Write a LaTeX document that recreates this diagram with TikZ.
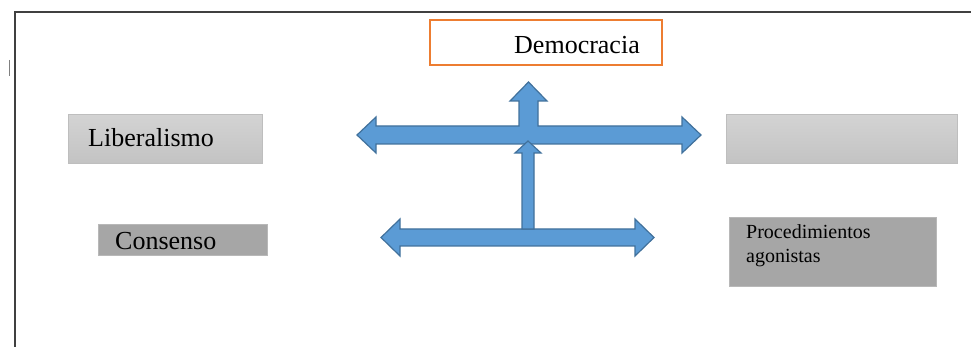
\documentclass[tikz,border=0pt]{standalone}
\usepackage{fontspec}
\setmainfont{Liberation Serif}
\definecolor{arrowfill}{HTML}{5B9BD5}
\definecolor{arrowline}{HTML}{41719C}
\definecolor{orangeline}{HTML}{ED7D31}
\definecolor{lightA}{HTML}{D3D3D3}
\definecolor{lightB}{HTML}{C3C3C3}
\definecolor{lightedge}{HTML}{BEBEBE}
\definecolor{darkgray}{HTML}{A6A6A6}
\definecolor{frameline}{HTML}{404040}
\begin{document}
\begin{tikzpicture}[x=1pt,y=-1pt,
  lightbox/.style={draw=lightedge, line width=0.8pt, top color=lightA, bottom color=lightB, anchor=north west, inner sep=0pt},
  darkbox/.style={draw=darkgray!80!white, line width=0.5pt, fill=darkgray, anchor=north west, inner sep=0pt},
  topbox/.style={draw=orangeline, line width=2pt, fill=white, anchor=north west, inner sep=0pt},
  bigtext/.style={font=\fontsize{26}{30}\selectfont, inner sep=0pt, anchor=west},
  smalltext/.style={font=\fontsize{20}{24}\selectfont, inner sep=0pt, anchor=west, align=left},
  blockarrow/.style={fill=arrowfill, draw=arrowline, line width=1.2pt, line join=miter}]
\useasboundingbox (0,0) rectangle (971,347);
% frame
\draw[frameline, line width=1.2pt] (15,347) -- (15,12) -- (971,12);
\draw[gray, line width=0.8pt] (9,60) -- (9,76);
% boxes
\node[topbox, minimum width=232pt, minimum height=45pt] (demo) at (428.5,19.5) {};
\node[bigtext] (tdemo) at (514,45) {Democracia};
\node[lightbox, minimum width=194pt, minimum height=49pt] (lib) at (68,114) {};
\node[bigtext] (tlib) at (88,138) {Liberalismo};
\node[lightbox, minimum width=231pt, minimum height=49pt] (empty) at (726,114) {};
\node[darkbox, minimum width=169pt, minimum height=31pt] (cons) at (98,224) {};
\node[bigtext] (tcons) at (115,241) {Consenso};
\node[darkbox, minimum width=207pt, minimum height=69pt] (proc) at (729,217) {};
\node[smalltext] (tproc) at (746,246) {Procedimientos\\agonistas};
% block arrows
\draw[blockarrow] (357,135) -- (376,117) -- (376,126) -- (519,126) -- (519,101) -- (510,101)
  -- (528.5,82) -- (547,101) -- (538,101) -- (538,126) -- (682,126) -- (682,117) -- (701,135)
  -- (682,153) -- (682,144) -- (376,144) -- (376,153) -- cycle;
\draw[blockarrow] (381,237.5) -- (400,219) -- (400,229) -- (635,229) -- (635,219) -- (654,237.5)
  -- (635,256) -- (635,246) -- (400,246) -- (400,256) -- cycle;
\draw[blockarrow] (522,229) -- (522,153) -- (515,153) -- (528,141) -- (541,153) -- (534,153)
  -- (534,229) -- cycle;
\end{tikzpicture}
\end{document}
